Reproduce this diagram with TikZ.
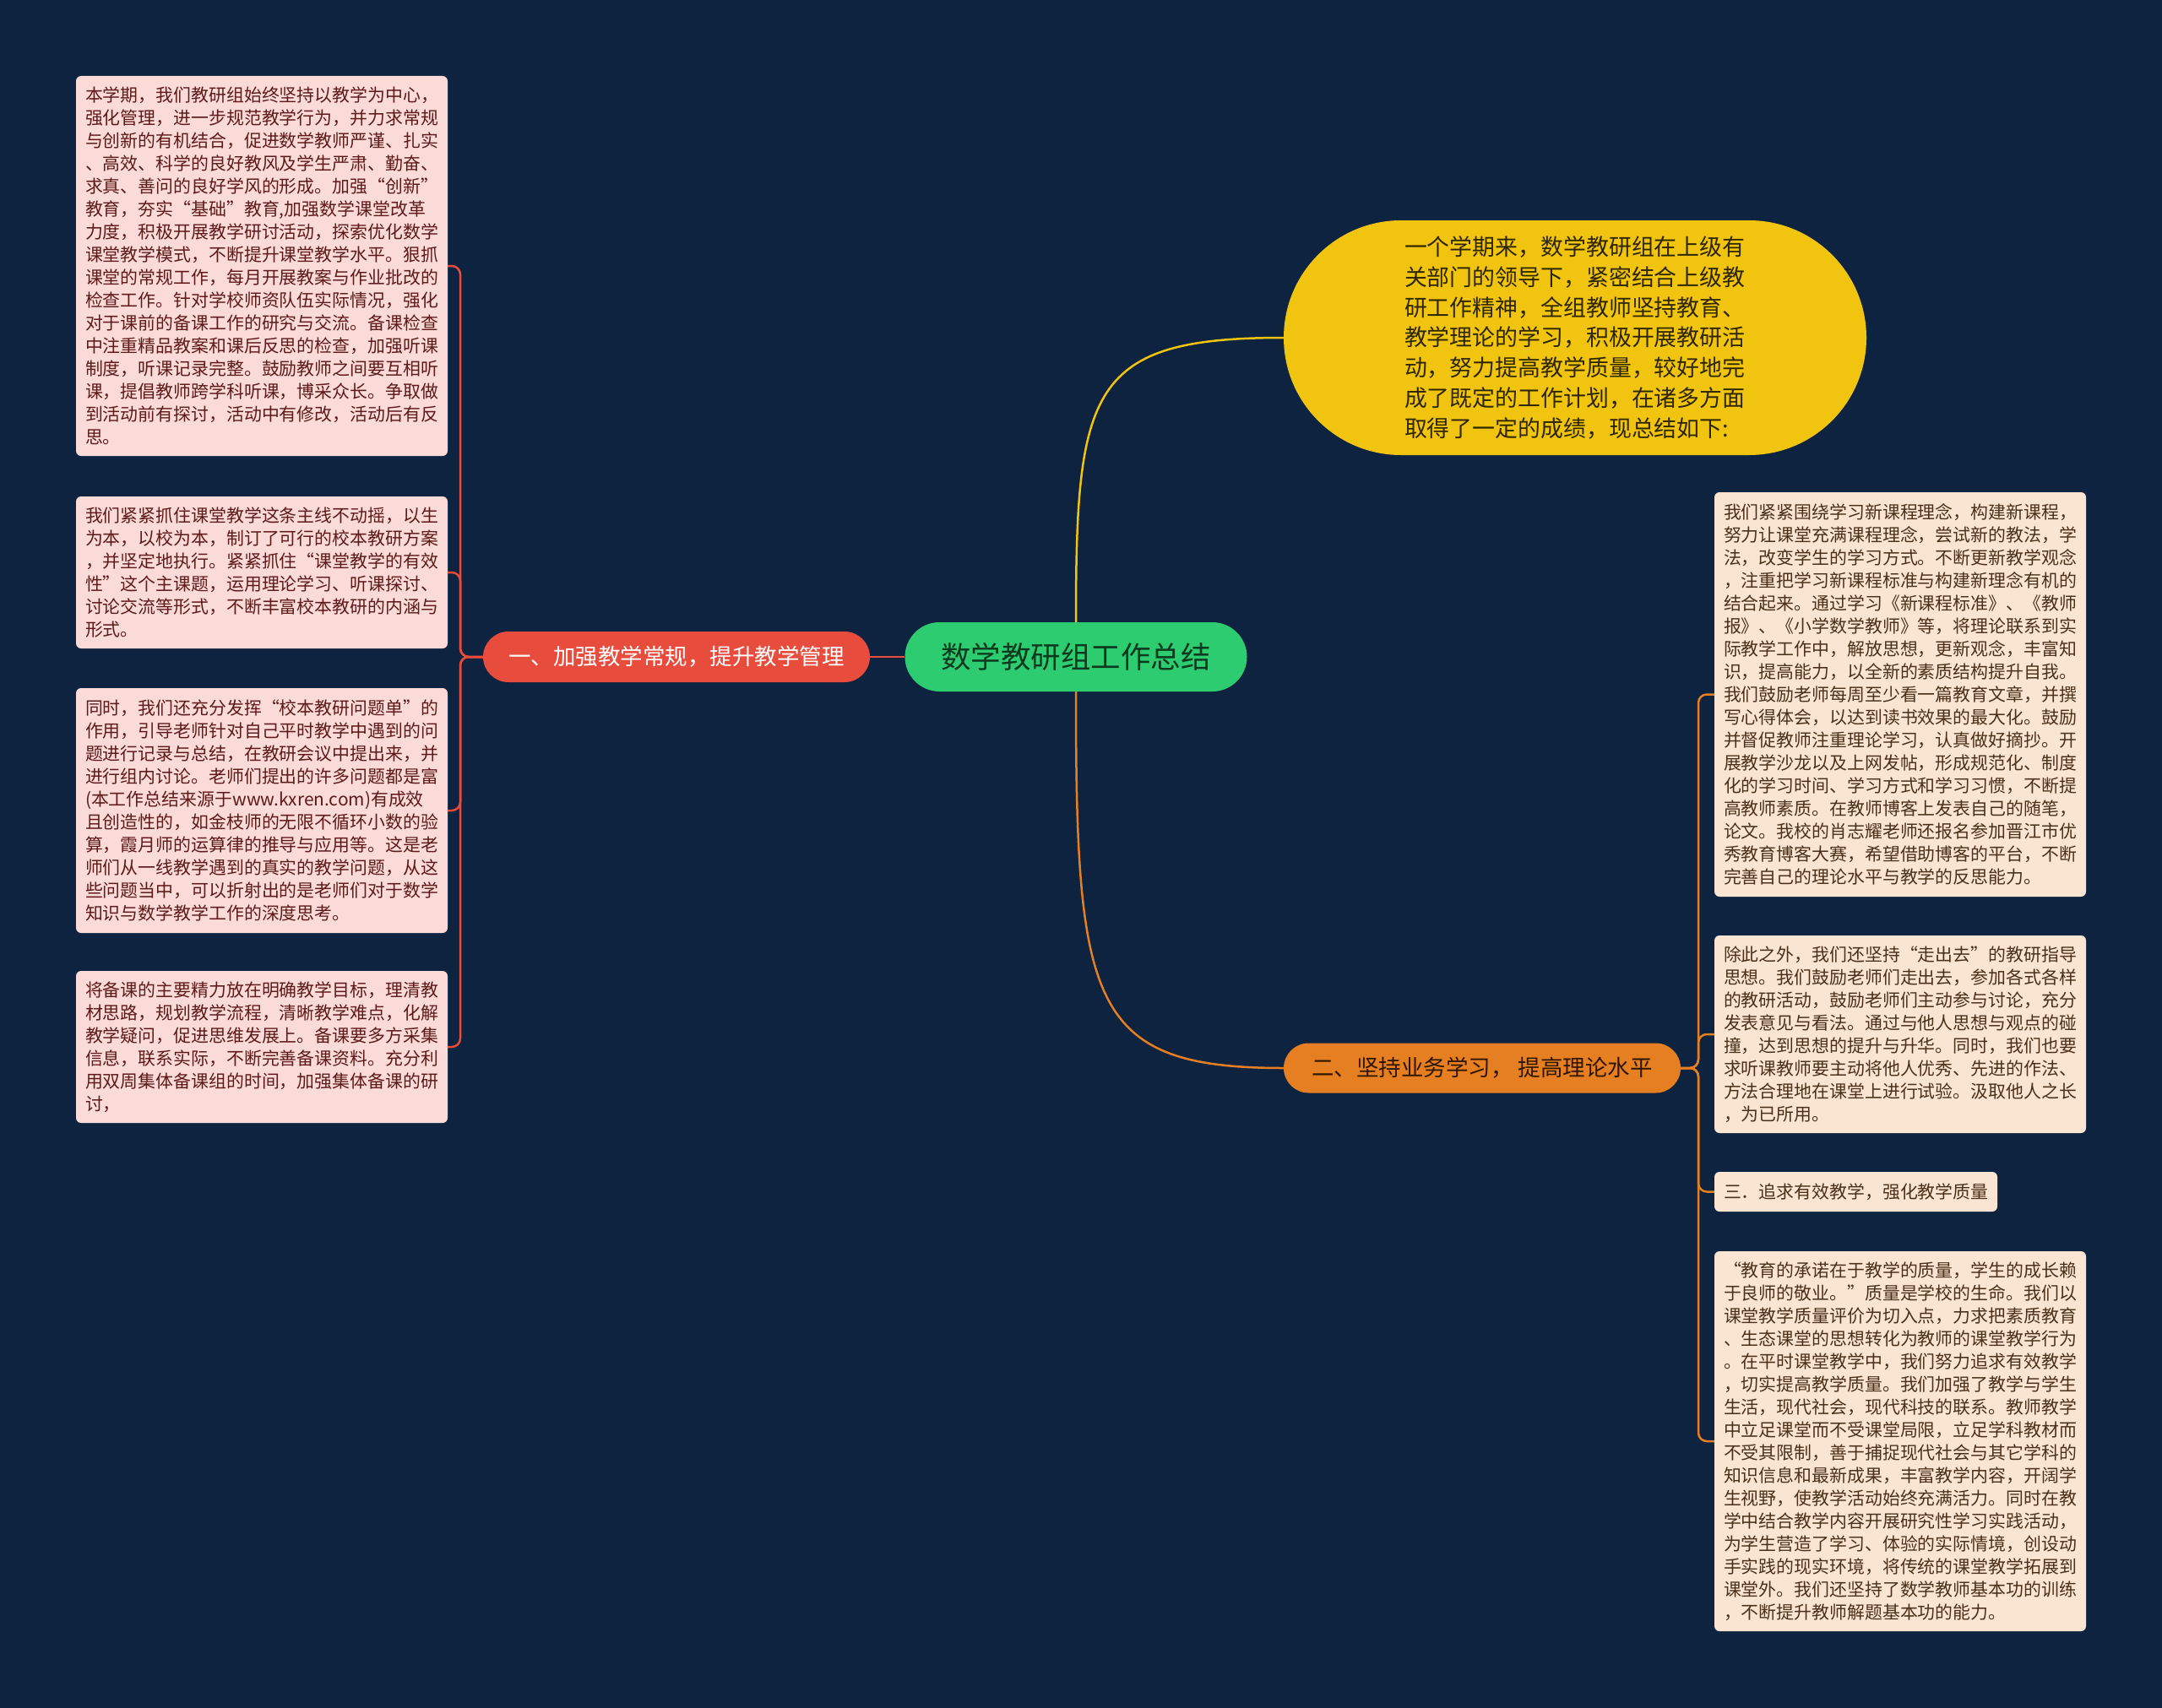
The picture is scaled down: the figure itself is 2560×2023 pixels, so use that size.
\documentclass[tikz,border=0pt]{standalone}
\usepackage{fontspec}
\setmainfont{Noto Sans CJK SC}
\usetikzlibrary{shapes.misc}
\definecolor{bgc}{HTML}{0D2340}
\definecolor{cgreen}{HTML}{2ECC71}
\definecolor{cred}{HTML}{E74C3C}
\definecolor{corange}{HTML}{E67E22}
\definecolor{cyellow}{HTML}{F1C40F}
\definecolor{cpink}{HTML}{FADBD8}
\definecolor{cpeach}{HTML}{FAE5D3}
\definecolor{tred}{HTML}{5E1A1A}
\definecolor{tbrown}{HTML}{4A3018}
\definecolor{tyellow}{HTML}{2E2600}
\definecolor{tgreen}{HTML}{0B3A1E}
\definecolor{torange}{HTML}{2E1600}
\tikzset{
  lbox/.style={rectangle, rounded corners=6pt, fill=cpink, text=tred, text width=418pt,
    inner xsep=11pt, inner ysep=4pt, align=left, font=\fontsize{20.9pt}{27pt}\selectfont},
  rbox/.style={lbox, fill=cpeach, text=tbrown},
  pill/.style={rounded rectangle, inner xsep=2pt, inner ysep=2pt, align=center},
  lred/.style={draw=cred, line width=2.5pt},
  lorange/.style={draw=corange, line width=2.5pt},
  lyellow/.style={draw=cyellow, line width=2.5pt}
}
\begin{document}
\begin{tikzpicture}[x=1pt,y=-1pt]
\useasboundingbox (0,0) rectangle (2560,2023);
\fill[bgc] (0,0) rectangle (2560,2023);

% central and main nodes
\node[pill, fill=cgreen, text=tgreen, minimum width=409pt, minimum height=82pt,
  font=\fontsize{35.5pt}{40pt}\selectfont] (center) at (1274,778) {数学教研组工作总结};
\node[pill, fill=cred, text=white, minimum width=462pt, minimum height=60pt,
  font=\fontsize{26.5pt}{30pt}\selectfont] (red) at (801,778) {一、加强教学常规，提升教学管理};
\node[pill, fill=corange, text=torange, minimum width=474pt, minimum height=59pt,
  font=\fontsize{26.5pt}{30pt}\selectfont] (orange) at (1755,1265) {二、坚持业务学习， 提高理论水平};
\node[pill, fill=cyellow, text=tyellow, minimum width=694pt, minimum height=278pt,
  text width=404pt, align=left, font=\fontsize{26.9pt}{35.9pt}\selectfont] (yellow) at (1865,400) {一个学期来，数学教研组在上级有\\
关部门的领导下，紧密结合上级教\\
研工作精神，全组教师坚持教育、\\
教学理论的学习，积极开展教研活\\
动，努力提高教学质量，较好地完\\
成了既定的工作计划，在诸多方面\\
取得了一定的成绩，现总结如下:};

% left boxes
\node[lbox, minimum height=450pt] (b1) at (310,315) {本学期，我们教研组始终坚持以教学为中心，\\
强化管理，进一步规范教学行为，并力求常规\\
与创新的有机结合，促进数学教师严谨、扎实\\
、高效、科学的良好教风及学生严肃、勤奋、\\
求真、善问的良好学风的形成。加强“创新”\\
教育，夯实“基础”教育,加强数学课堂改革\\
力度，积极开展教学研讨活动，探索优化数学\\
课堂教学模式，不断提升课堂教学水平。狠抓\\
课堂的常规工作，每月开展教案与作业批改的\\
检查工作。针对学校师资队伍实际情况，强化\\
对于课前的备课工作的研究与交流。备课检查\\
中注重精品教案和课后反思的检查，加强听课\\
制度，听课记录完整。鼓励教师之间要互相听\\
课，提倡教师跨学科听课，博采众长。争取做\\
到活动前有探讨，活动中有修改，活动后有反\\
思。};
\node[lbox, minimum height=180pt] (b2) at (310,678) {我们紧紧抓住课堂教学这条主线不动摇，以生\\
为本，以校为本，制订了可行的校本教研方案\\
，并坚定地执行。紧紧抓住“课堂教学的有效\\
性”这个主课题，运用理论学习、听课探讨、\\
讨论交流等形式，不断丰富校本教研的内涵与\\
形式。};
\node[lbox, minimum height=290pt] (b3) at (310,960) {同时，我们还充分发挥“校本教研问题单”的\\
作用，引导老师针对自己平时教学中遇到的问\\
题进行记录与总结，在教研会议中提出来，并\\
进行组内讨论。老师们提出的许多问题都是富\\
(本工作总结来源于www.kxren.com)有成效\\
且创造性的，如金枝师的无限不循环小数的验\\
算，霞月师的运算律的推导与应用等。这是老\\
师们从一线教学遇到的真实的教学问题，从这\\
些问题当中，可以折射出的是老师们对于数学\\
知识与数学教学工作的深度思考。};
\node[lbox, minimum height=180pt] (b4) at (310,1240) {将备课的主要精力放在明确教学目标，理清教\\
材思路，规划教学流程，清晰教学难点，化解\\
教学疑问，促进思维发展上。备课要多方采集\\
信息，联系实际，不断完善备课资料。充分利\\
用双周集体备课组的时间，加强集体备课的研\\
讨，};

% right boxes
\node[rbox, minimum height=479pt] (ba) at (2250,822.5) {我们紧紧围绕学习新课程理念，构建新课程，\\
努力让课堂充满课程理念，尝试新的教法，学\\
法，改变学生的学习方式。不断更新教学观念\\
，注重把学习新课程标准与构建新理念有机的\\
结合起来。通过学习《新课程标准》、《教师\\
报》、《小学数学教师》等，将理论联系到实\\
际教学工作中，解放思想，更新观念，丰富知\\
识，提高能力，以全新的素质结构提升自我。\\
我们鼓励老师每周至少看一篇教育文章，并撰\\
写心得体会，以达到读书效果的最大化。鼓励\\
并督促教师注重理论学习，认真做好摘抄。开\\
展教学沙龙以及上网发帖，形成规范化、制度\\
化的学习时间、学习方式和学习习惯，不断提\\
高教师素质。在教师博客上发表自己的随笔，\\
论文。我校的肖志耀老师还报名参加晋江市优\\
秀教育博客大赛，希望借助博客的平台，不断\\
完善自己的理论水平与教学的反思能力。};
\node[rbox, minimum height=234pt] (bb) at (2250,1225) {除此之外，我们还坚持“走出去”的教研指导\\
思想。我们鼓励老师们走出去，参加各式各样\\
的教研活动，鼓励老师们主动参与讨论，充分\\
发表意见与看法。通过与他人思想与观点的碰\\
撞，达到思想的提升与升华。同时，我们也要\\
求听课教师要主动将他人优秀、先进的作法、\\
方法合理地在课堂上进行试验。汲取他人之长\\
，为已所用。};
\node[rbox, text width=313pt, minimum height=47pt] (bc) at (2197.5,1411.5) {三．追求有效教学，强化教学质量};
\node[rbox, minimum height=450pt] (bd) at (2250,1707) {“教育的承诺在于教学的质量，学生的成长赖\\
于良师的敬业。”质量是学校的生命。我们以\\
课堂教学质量评价为切入点，力求把素质教育\\
、生态课堂的思想转化为教师的课堂教学行为\\
。在平时课堂教学中，我们努力追求有效教学\\
，切实提高教学质量。我们加强了教学与学生\\
生活，现代社会，现代科技的联系。教师教学\\
中立足课堂而不受课堂局限，立足学科教材而\\
不受其限制，善于捕捉现代社会与其它学科的\\
知识信息和最新成果，丰富教学内容，开阔学\\
生视野，使教学活动始终充满活力。同时在教\\
学中结合教学内容开展研究性学习实践活动，\\
为学生营造了学习、体验的实际情境，创设动\\
手实践的现实环境，将传统的课堂教学拓展到\\
课堂外。我们还坚持了数学教师基本功的训练\\
，不断提升教师解题基本功的能力。};

% connectors
\coordinate (jl) at (545,778);
\coordinate (jr) at (2011,1265);
\draw[lred] (red.east) -- (center.west);
\foreach \b in {b1,b2,b3,b4}
  \draw[lred, rounded corners=10pt] (red.west) -- (jl) -- (jl |- \b.east) -- (\b.east);
\foreach \b in {ba,bb,bc,bd}
  \draw[lorange, rounded corners=10pt] (orange.east) -- (jr) -- (jr |- \b.west) -- (\b.west);
\draw[lyellow] (center.north) .. controls (1274,460) and (1290,400) .. (yellow.west);
\draw[lorange] (center.south) .. controls (1274,1190) and (1290,1265) .. (orange.west);
\end{tikzpicture}
\end{document}
